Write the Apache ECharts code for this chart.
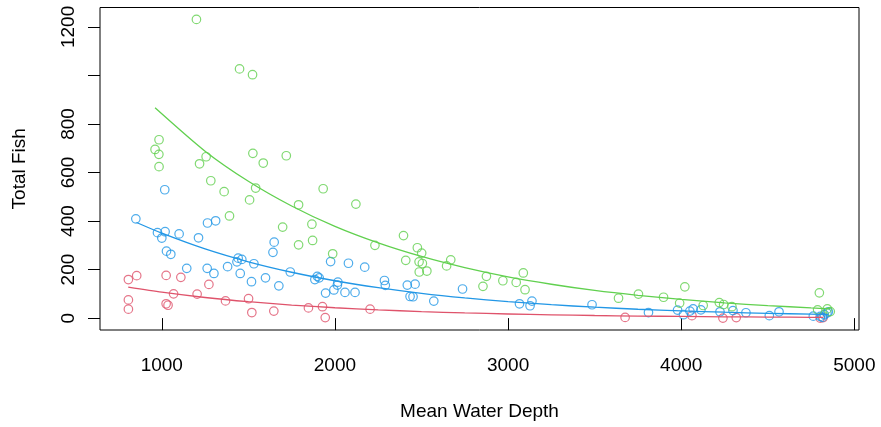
<!DOCTYPE html>
<html>
<head>
<meta charset="utf-8">
<script src="https://cdn.jsdelivr.net/npm/echarts@6/dist/echarts.min.js"></script>
<style>
  html, body { margin: 0; padding: 0; background: #fff; }
  #chart { width: 881px; height: 427px; }
</style>
</head>
<body>
<div id="chart"></div>
<script>
// 点的数据 (depth, fish)
var redDepth = [807, 855, 1025, 1110, 1272, 807, 807, 1025, 1036, 1068, 1204, 1368, 1501, 1520, 1647, 1847, 1928, 1944, 2203, 3676, 4062, 4241, 4318, 4803, 4820];
var redFish  = [159, 175, 176, 168, 139, 75, 37, 59, 53, 100, 99, 71, 80, 23, 29, 42, 47, 2, 37, 3, 10, 0, 2, 0, 2];

var blueDepth = [850, 1017, 975, 1019, 1000, 1100, 1212, 1264, 1311, 1027, 1052, 1144, 1262, 1301, 1380, 1434, 1441, 1462, 1532, 1453, 1518, 1599, 1676, 1742, 1649, 1642, 1884, 1898, 1909, 1975, 2078, 2172, 1946, 1994, 2014, 2017, 2058, 2116, 2286, 2291, 2418, 2463, 2434, 2451, 2571, 2737, 3066, 3127, 3138, 3485, 3811, 3979, 4013, 4050, 4069, 4114, 4224, 4299, 4374, 4509, 4565, 4763, 4803, 4815, 4827, 4842, 4850];
var blueFish  = [409, 529, 352, 356, 330, 347, 331, 392, 401, 276, 263, 205, 205, 184, 212, 232, 247, 242, 224, 184, 150, 166, 133, 190, 313, 271, 159, 172, 166, 233, 226, 210, 103, 116, 136, 148, 106, 106, 155, 135, 136, 140, 89, 88, 70, 120, 59, 51, 70, 55, 23, 33, 14, 29, 38, 34, 26, 31, 22, 10, 26, 8, 7, 3, 14, 21, 26];

var greenDepth = [1200, 1449, 1524, 984, 961, 983, 984, 1256, 1218, 1526, 1586, 1719, 1283, 1360, 1542, 1507, 1932, 1790, 2121, 1391, 1698, 1867, 1790, 1871, 1987, 2231, 2396, 2476, 2501, 2409, 2486, 2505, 2487, 2531, 2669, 2645, 2875, 2855, 2970, 3047, 3088, 3098, 3638, 3753, 3898, 4021, 3991, 4127, 4220, 4245, 4293, 4798, 4788, 4844, 4861];
var greenFish  = [1231, 1027, 1003, 735, 695, 675, 624, 665, 636, 679, 639, 669, 566, 521, 536, 487, 533, 467, 470, 421, 375, 387, 302, 320, 265, 300, 340, 290, 268, 238, 232, 225, 190, 194, 240, 215, 172, 131, 154, 147, 186, 117, 82, 99, 86, 129, 62, 52, 64, 56, 47, 104, 34, 38, 27];

// 拟合曲线, 沿线读出的点
var redFitDepth   = [806, 1000, 1250, 1500, 1750, 2000, 2250, 2500, 2750, 3000, 3250, 3500, 3750, 4000, 4250, 4500, 4750, 4820];
var redFit        = [128, 107, 85, 67.6, 53.7, 42.7, 33.9, 26.9, 21.4, 17.0, 13.5, 10.7, 8.5, 6.8, 5.4, 4.3, 3.4, 3.2];
var blueFitDepth  = [854, 1000, 1250, 1500, 1750, 2000, 2250, 2500, 2750, 3000, 3250, 3500, 3750, 4000, 4250, 4500, 4750, 4850];
var blueFit       = [394, 350, 285, 232, 189, 154, 125.4, 102, 83.2, 68, 55.2, 45, 36.6, 30, 24.3, 19.8, 16.2, 14.9];
var greenFitDepth = [961, 1250, 1500, 1750, 2000, 2250, 2500, 2750, 3000, 3250, 3500, 3750, 4000, 4250, 4500, 4750, 4861];
var greenFit      = [867, 688, 564, 462, 378, 310, 254, 208, 170, 139.6, 114, 93.7, 77, 62.8, 51.5, 42.2, 38.6];

var xTicks = [1000, 2000, 3000, 4000, 5000];
var yTicks = [0, 200, 400, 600, 800, 1000, 1200];
var yLabels = [0, 200, 400, 600, 800, 1200]; // 1000 is dropped in the original

var RED = '#DF536B', BLUE = '#2297E6', GREEN = '#61D04F';
var FONT = '"Liberation Sans", Arial, sans-serif';

function pairs(xs, ys) {
    var out = [];
    for (var i = 0; i < xs.length; i++) out.push([xs[i], ys[i]]);
    return out;
}

function pointSeries(xs, ys, col) {
    return {
        type: 'scatter',
        data: pairs(xs, ys),
        symbol: 'circle',
        symbolSize: 8.5,
        itemStyle: { color: 'rgba(0,0,0,0)', borderColor: col, borderWidth: 1.2 },
        z: 3
    };
}

function fitSeries(xs, ys, col) {
    return {
        type: 'line',
        data: pairs(xs, ys),
        smooth: 0.25,
        showSymbol: false,
        symbol: 'none',
        lineStyle: { color: col, width: 1.3 },
        z: 4
    };
}

var myChart = echarts.init(document.getElementById('chart'));

var option = {
    animation: false,
    backgroundColor: '#fff',
    textStyle: { fontFamily: FONT, color: '#000' },
    grid: {
        left: 100, right: 22, top: 7.5, bottom: 97,
        show: true, borderColor: '#000', borderWidth: 1, backgroundColor: 'transparent'
    },
    xAxis: {
        type: 'value',
        min: 643, max: 5027,
        name: 'Mean Water Depth',
        nameLocation: 'middle',
        nameGap: 72,
        nameTextStyle: { fontSize: 19, color: '#000', fontFamily: FONT },
        axisLine: { show: false },
        splitLine: { show: false },
        axisTick: { show: true, inside: false, length: 12, customValues: xTicks, lineStyle: { color: '#000', width: 1 } },
        axisLabel: {
            customValues: xTicks, fontSize: 19, color: '#000', margin: 26, fontFamily: FONT,
            formatter: function (v) { return String(v); }
        }
    },
    yAxis: {
        type: 'value',
        min: -49, max: 1280,
        name: 'Total Fish',
        nameLocation: 'middle',
        nameGap: 71,
        nameRotate: 90,
        nameTextStyle: { fontSize: 19, color: '#000', fontFamily: FONT },
        axisLine: { show: false },
        splitLine: { show: false },
        axisTick: { show: true, inside: false, length: 12, customValues: yTicks, lineStyle: { color: '#000', width: 1 } },
        axisLabel: {
            customValues: yLabels, rotate: 90, fontSize: 19, color: '#000', margin: 22, fontFamily: FONT,
            formatter: function (v) { return String(v); }
        }
    },
    series: [
        pointSeries(redDepth, redFish, RED),
        pointSeries(blueDepth, blueFish, BLUE),
        pointSeries(greenDepth, greenFish, GREEN),
        fitSeries(redFitDepth, redFit, RED),
        fitSeries(blueFitDepth, blueFit, BLUE),
        fitSeries(greenFitDepth, greenFit, GREEN)
    ]
};

myChart.setOption(option);
</script>
</body>
</html>
